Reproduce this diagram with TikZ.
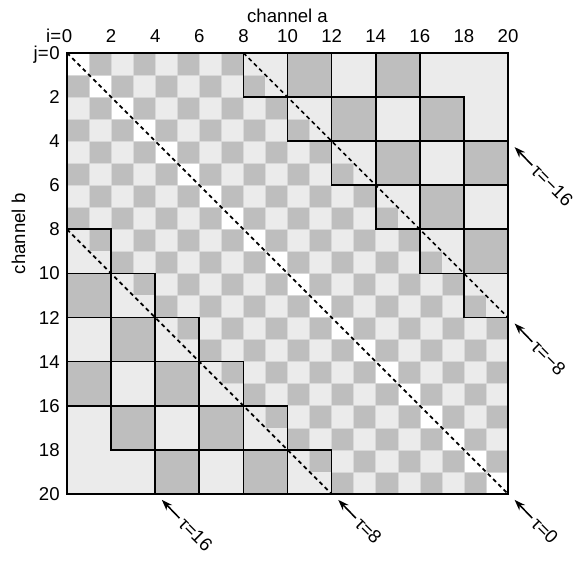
\documentclass[tikz,border=0pt]{standalone}
\usepackage{fontspec}
\setmainfont{Liberation Sans}
\usetikzlibrary{arrows.meta,calc}
\definecolor{tone0}{HTML}{EBEBEB}
\definecolor{tone1}{HTML}{BEBEBE}
\definecolor{tone2}{HTML}{FFFFFF}
\definecolor{seam}{HTML}{D8D8D8}
\tikzset{
    every picture/.style={line join=miter},
    cellfill/.style={fill=#1},
    finecell/.style={fill=#1,draw=seam,line width=0.3pt},
    blockline/.style={draw=black,line width=1.1pt},
    frameline/.style={draw=black,line width=1.6pt},
    lagline/.style={draw=black,line width=1.1pt,dash pattern=on 2.6pt off 2.2pt},
    ticklabel/.style={inner sep=0pt,font=\fontsize{12}{14}\selectfont},
    axislabel/.style={inner sep=0pt,font=\fontsize{12}{14}\selectfont},
    taulabel/.style={anchor=west,rotate=-45,inner sep=2pt,font=\fontsize{12}{14}\selectfont},
    tauarrow/.style={-{Stealth[length=7pt,width=5pt]},line width=1pt}
}
\begin{document}
\begin{tikzpicture}[x=0.5cm,y=0.5cm]
  \useasboundingbox (-3.04,2.40) rectangle (23.31,-23.04);
  % cells: fine near the diagonal, 2x2 and 4x4 further out
  \foreach \i in {0,...,19}{
    \foreach \j in {0,...,19}{
      \pgfmathtruncatemacro\lag{abs(\i-\j)}
      \pgfmathtruncatemacro\tone{\lag==0 ? 2 : (\lag<8 ? mod(\i+\j,2) : (\lag<16 ? mod(int(\i/2)+int(\j/2),2) : mod(int(\i/4)+int(\j/4),2)))}
      \ifnum\lag<8
        \path[finecell=tone\tone] (\i,-\j) rectangle ++(1,-1);
      \else
        \path[cellfill=tone\tone] (\i,-\j) rectangle ++(1,-1);
      \fi
    }
  }
  % block outlines
  \foreach \bi in {0,...,9}{
    \foreach \bj in {0,...,9}{
      \pgfmathtruncatemacro\blag{abs(\bi-\bj)}
      \ifnum\blag>3 \ifnum\blag<8
        \draw[blockline] (2*\bi,-2*\bj) rectangle ++(2,-2);
      \fi\fi
    }
  }
  \draw[blockline] (16,0) rectangle (20,-4);
  \draw[blockline] (0,-16) rectangle (4,-20);
  % corners
  \coordinate (start0) at (0,0);
  \coordinate (startm8) at (8,0);
  \coordinate (start8) at (0,-8);
  \coordinate (end0) at (20,-20);
  \coordinate (endm8) at (20,-12);
  \coordinate (end8) at (12,-20);
  \coordinate (endm16) at (20,-4);
  \coordinate (end16) at (4,-20);
  \draw[lagline] (start0) -- (end0);
  \draw[lagline] (startm8) -- (endm8);
  \draw[lagline] (start8) -- (end8);
  \draw[frameline] (start0) rectangle (end0);
  % axes
  \node[ticklabel,anchor=base] (col0) at (0,0.47) {0};
  \node[ticklabel,anchor=base east] (coli) at (col0.base west) {i=};
  \foreach \k in {2,4,...,20}
    \node[ticklabel,anchor=base] (col\k) at (\k,0.47) {\k};
  \node[axislabel,anchor=base] (xlab) at (10,1.4) {channel a};
  \node[ticklabel,anchor=east] (row0) at (-0.32,0) {0};
  \node[ticklabel,anchor=base east] (rowj) at (row0.base west) {j=};
  \foreach \k in {2,4,...,20}
    \node[ticklabel,anchor=east] (row\k) at (-0.32,-\k) {\k};
  \node[axislabel,rotate=90] (ylab) at (-2.2,-8.2) {channel b};
  % lag markers
  \foreach \c/\t in {endm16/−16,endm8/−8,end0/0,end8/8,end16/16}{
    \node[taulabel] (tau\c) at ($(\c)+(1.1,-1.1)$) {τ=\t};
    \coordinate (tip\c) at ($(\c)+(0.3,-0.27)$);
    \draw[tauarrow] (tau\c.west) -- (tip\c);
  }
\end{tikzpicture}
\end{document}
